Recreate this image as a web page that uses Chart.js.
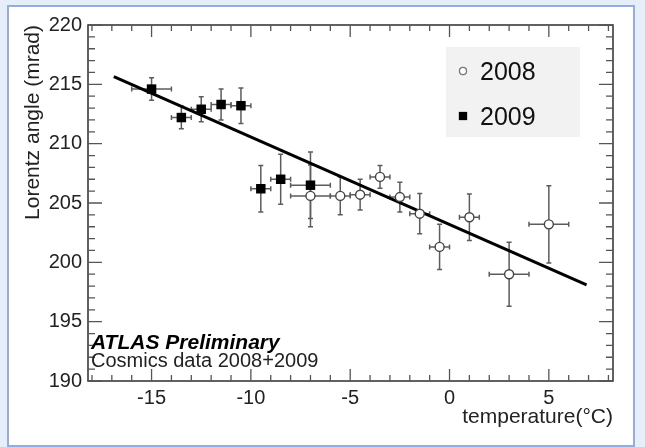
<!DOCTYPE html>
<html>
<head>
<meta charset="utf-8">
<script src="https://cdn.jsdelivr.net/npm/chart.js@4.4.1/dist/chart.umd.min.js"></script>
<style>
  html, body { margin: 0; padding: 0; background: #e6eef9; }
  #frame { position: absolute; left: 7px; top: 5px; width: 624px; height: 438px; background: #fff; border: 2px solid #97abe0; }
  #chart { position: absolute; left: 0; top: 0; }
</style>
</head>
<body>
<div id="frame"></div>
<canvas id="chart" width="645" height="447"></canvas>
<script>
// 2008 cosmics (open circles)
const temp2008 = [-7.0, -5.5, -4.5, -3.5, -2.5, -1.5, -0.5, 1.0, 3.0, 5.0];
const angle2008 = [205.6, 205.6, 205.7, 207.2, 205.5, 204.1, 201.3, 203.8, 199.0, 203.2];
const tErr2008 = [1.0, 0.5, 0.5, 0.5, 0.5, 0.5, 0.5, 0.5, 1.0, 1.0];
const aErr2008 = [2.6, 1.6, 1.3, 0.95, 1.25, 1.7, 1.9, 1.95, 2.7, 3.25];

// 2009 cosmics (filled squares)
const temp2009 = [-15.0, -13.5, -12.5, -11.5, -10.5, -9.5, -8.5, -7.0];
const angle2009 = [214.6, 212.2, 212.9, 213.3, 213.2, 206.2, 207.0, 206.5];
const tErr2009 = [1.0, 0.5, 0.5, 0.5, 0.5, 0.5, 0.5, 1.0];
const aErr2009 = [0.95, 0.95, 1.05, 1.3, 1.5, 1.95, 2.1, 2.8];

// linear fit end points
const fitTemp = [-16.9, 6.9];
const fitAngle = [215.65, 198.1];

const xTitle = 'temperature(\u00B0C)';
const yTitle = 'Lorentz angle (mrad)';
const label1 = 'ATLAS Preliminary';
const label2 = 'Cosmics data 2008+2009';

const FONT = "'Liberation Sans', Arial, sans-serif";

function toPoints(xs, ys) {
    return xs.map((v, i) => ({ x: v, y: ys[i] }));
}

// error bars with small end caps, ROOT style
const errorBars = {
    id: 'errorBars',
    beforeDatasetsDraw(chart) {
        const { ctx, scales: { x, y } } = chart;
        const cap = 2.5;
        ctx.save();
        ctx.strokeStyle = '#5c5c5c';
        ctx.lineWidth = 1.5;
        chart.data.datasets.forEach(ds => {
            if (!ds.xErr) return;
            ds.data.forEach((p, i) => {
                const px = x.getPixelForValue(p.x);
                const py = y.getPixelForValue(p.y);
                const x0 = x.getPixelForValue(p.x - ds.xErr[i]);
                const x1 = x.getPixelForValue(p.x + ds.xErr[i]);
                const y0 = y.getPixelForValue(p.y - ds.yErr[i]);
                const y1 = y.getPixelForValue(p.y + ds.yErr[i]);
                ctx.beginPath();
                ctx.moveTo(x0, py); ctx.lineTo(x1, py);
                ctx.moveTo(px, y0); ctx.lineTo(px, y1);
                ctx.moveTo(x0, py - cap); ctx.lineTo(x0, py + cap);
                ctx.moveTo(x1, py - cap); ctx.lineTo(x1, py + cap);
                ctx.moveTo(px - cap, y0); ctx.lineTo(px + cap, y0);
                ctx.moveTo(px - cap, y1); ctx.lineTo(px + cap, y1);
                ctx.stroke();
            });
        });
        ctx.restore();
    }
};

// frame box with inward ticks on all four sides, plus texts and legend
const decorations = {
    id: 'decorations',
    afterDraw(chart) {
        const { ctx, chartArea: a, scales: { x, y } } = chart;
        ctx.save();
        ctx.strokeStyle = '#3a3a3a';
        ctx.lineWidth = 1.6;
        ctx.strokeRect(a.left, a.top, a.right - a.left, a.bottom - a.top);

        ctx.strokeStyle = '#555';
        ctx.lineWidth = 1.3;
        ctx.beginPath();
        for (let v = Math.ceil(x.min); v <= x.max; v++) {
            const px = x.getPixelForValue(v);
            const len = v % 5 === 0 ? 12 : 6;
            ctx.moveTo(px, a.bottom); ctx.lineTo(px, a.bottom - len);
            ctx.moveTo(px, a.top); ctx.lineTo(px, a.top + len);
        }
        for (let v = Math.ceil(y.min); v <= y.max; v++) {
            const py = y.getPixelForValue(v);
            const len = v % 5 === 0 ? 14 : 7;
            ctx.moveTo(a.left, py); ctx.lineTo(a.left + len, py);
            ctx.moveTo(a.right, py); ctx.lineTo(a.right - len, py);
        }
        ctx.stroke();

        // ATLAS label
        ctx.fillStyle = '#000';
        ctx.textAlign = 'left';
        ctx.textBaseline = 'alphabetic';
        ctx.font = 'italic bold 21px ' + FONT;
        ctx.fillText(label1, a.left + 3, 349);
        ctx.fillStyle = '#222';
        ctx.font = '20px ' + FONT;
        ctx.fillText(label2, a.left + 3, 367);

        // legend box
        const ds = chart.data.datasets;
        ctx.fillStyle = '#f2f2f2';
        ctx.fillRect(446, 47, 134, 90);
        ctx.font = '25px ' + FONT;
        ctx.textBaseline = 'middle';
        [0, 1].forEach((k, i) => {
            const ly = 72 + i * 45;
            Chart.helpers.drawPoint(ctx, {
                pointStyle: ds[k].pointStyle,
                radius: k === 0 ? 3.5 : 5,
                borderWidth: 1.2
            }, 463, ly - 1);
            ctx.fillStyle = ds[k].backgroundColor;
            ctx.strokeStyle = k === 0 ? '#777' : '#000';
            ctx.lineWidth = 1.2;
            ctx.beginPath();
            if (k === 0) {
                ctx.arc(463, ly - 1, 3.5, 0, Math.PI * 2);
            } else {
                ctx.rect(459.5, ly - 4.5, 7, 7);
            }
            ctx.fill();
            ctx.stroke();
            ctx.fillStyle = '#111';
            ctx.fillText(ds[k].label, 480, ly + 1);
        });
        ctx.restore();
    }
};

const ctx = document.getElementById('chart').getContext('2d');

const chart = new Chart(ctx, {
    type: 'scatter',
    data: {
        datasets: [
            {
                label: '2008',
                data: toPoints(temp2008, angle2008),
                xErr: tErr2008,
                yErr: aErr2008,
                pointStyle: 'circle',
                pointRadius: 4.5,
                backgroundColor: '#ffffff',
                borderColor: '#444',
                borderWidth: 1.4
            },
            {
                label: '2009',
                data: toPoints(temp2009, angle2009),
                xErr: tErr2009,
                yErr: aErr2009,
                pointStyle: 'rect',
                pointRadius: 6.7,
                backgroundColor: '#000000',
                borderColor: '#000000',
                borderWidth: 0
            },
            {
                label: 'fit',
                type: 'line',
                data: toPoints(fitTemp, fitAngle),
                showLine: true,
                borderColor: '#000',
                borderWidth: 3,
                pointRadius: 0,
                fill: false
            }
        ]
    },
    options: {
        responsive: false,
        animation: false,
        devicePixelRatio: 1,
        layout: { padding: { left: 0, top: 25, right: 32, bottom: 0 } },
        plugins: {
            legend: { display: false },
            tooltip: { enabled: false }
        },
        scales: {
            x: {
                type: 'linear',
                min: -18.2,
                max: 8.23,
                grid: { display: false, drawTicks: false },
                border: { display: false },
                ticks: {
                    stepSize: 5,
                    includeBounds: false,
                    autoSkip: false,
                    maxRotation: 0,
                    padding: 5,
                    color: '#222',
                    font: { family: FONT, size: 20 }
                },
                title: {
                    display: true,
                    text: xTitle,
                    align: 'end',
                    color: '#222',
                    font: { family: FONT, size: 21 },
                    padding: { top: 0, bottom: 17 }
                },
                afterFit: (s) => { s.height = 66; }
            },
            y: {
                type: 'linear',
                min: 190,
                max: 220,
                grid: { display: false, drawTicks: false },
                border: { display: false },
                ticks: {
                    stepSize: 5,
                    includeBounds: false,
                    autoSkip: false,
                    padding: 6,
                    color: '#222',
                    font: { family: FONT, size: 20 }
                },
                title: {
                    display: true,
                    text: yTitle,
                    align: 'end',
                    color: '#222',
                    font: { family: FONT, size: 21 },
                    padding: { top: 21, bottom: 0 }
                },
                afterFit: (s) => { s.width = 88; }
            }
        }
    },
    plugins: [errorBars, decorations]
});
</script>
</body>
</html>
